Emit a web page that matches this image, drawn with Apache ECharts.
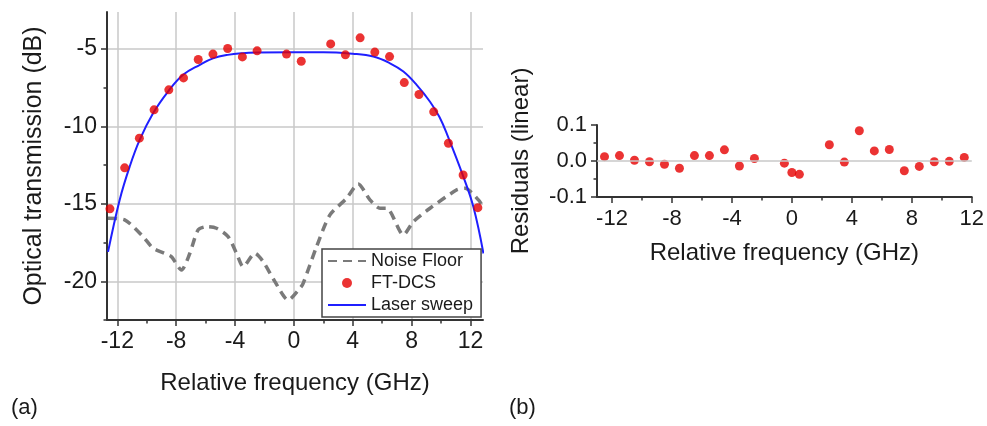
<!DOCTYPE html>
<html>
<head>
<meta charset="utf-8">
<script src="https://cdn.jsdelivr.net/npm/echarts@6/dist/echarts.min.js"></script>
<style>
html,body{margin:0;padding:0;background:#fff;}
#chart{width:987px;height:426px;}
</style>
</head>
<body>
<div id="chart"></div>
<script>
// ---- data ----
const dcsFreq = [-12.5,-11.5,-10.5,-9.5,-8.5,-7.5,-6.5,-5.5,-4.5,-3.5,-2.5,-0.5,0.5,2.5,3.5,4.5,5.5,6.5,7.5,8.5,9.5,10.5,11.5,12.5];
const dcsDb   = [-15.32,-12.67,-10.75,-8.92,-7.63,-6.86,-5.67,-5.32,-4.96,-5.50,-5.11,-5.32,-5.78,-4.66,-5.37,-4.27,-5.19,-5.48,-7.16,-7.93,-9.05,-11.08,-13.13,-15.24];

const sweepFreq = [-12.63,-11.84,-11.16,-10.48,-9.57,-8.55,-7.53,-6.39,-5.5,-4.5,-3.5,-2.5,0,2,4,5.4,6.5,7.44,8.34,9.25,9.9,10.45,11.5,12.2,12.88];
const sweepDb   = [-18.1,-14.74,-12.59,-10.86,-9.14,-7.74,-6.66,-6.01,-5.6,-5.37,-5.26,-5.22,-5.2,-5.2,-5.3,-5.48,-5.9,-6.45,-7.31,-8.4,-9.4,-10.6,-13.2,-15.2,-18.2];

const noiseFreq = [-12.63,-11.5,-10.25,-9.57,-8.78,-8.32,-7.64,-7.07,-6.51,-5.94,-5.26,-4.47,-3.9,-3.45,-2.65,-2.09,-1.29,-0.39,0.41,0.63,1.54,2.45,3.59,4.37,5.17,5.85,6.31,7.44,8.12,9.25,11.07,11.63,12.54,12.85];
const noiseDb   = [-15.92,-16.03,-17.11,-17.86,-18.19,-18.41,-19.27,-18.19,-16.68,-16.47,-16.57,-17.11,-18.19,-19.05,-18.19,-18.73,-20.02,-21.21,-20.45,-20.13,-17.76,-15.71,-14.63,-13.71,-14.74,-15.28,-15.28,-17.0,-16.14,-15.28,-14.09,-13.99,-14.74,-15.2];

const resFreq = [-12.5,-11.5,-10.5,-9.5,-8.5,-7.5,-6.5,-5.5,-4.5,-3.5,-2.5,-0.5,0,0.5,2.5,3.5,4.5,5.5,6.5,7.5,8.5,9.5,10.5,11.5];
const resVal  = [0.012,0.015,0.002,-0.002,-0.009,-0.020,0.015,0.015,0.031,-0.014,0.007,-0.006,-0.032,-0.037,0.045,-0.003,0.084,0.028,0.032,-0.027,-0.015,-0.002,-0.001,0.010];

const freqTicks      = [-12,-8,-4,0,4,8,12];
const freqMinorTicks = [-10,-6,-2,2,6,10];
const dbTicks        = [-20,-15,-10,-5];
const dbMinorTicks   = [-22.5,-17.5,-12.5,-7.5];
const resTicks       = [-0.1,0,0.1];
const resMinorTicks  = [-0.05,0.05];

const labels = { yLeft: 'Optical transmission (dB)', yRight: 'Residuals (linear)', x: 'Relative frequency (GHz)' };

// ---- chart ----
const FONT = 'Liberation Sans, Arial, sans-serif';
const TXT = '#1a1a1a';
const AXIS = '#333';
const GRIDC = '#c8c8c8';
const zip = (a, b) => a.map((v, i) => [v, b[i]]);

function mainAxis(extra) {
  return Object.assign({
    type: 'value',
    axisLine: { show: true, onZero: false, lineStyle: { color: AXIS, width: 2 } },
    splitLine: { show: false },
    minorTick: { show: false }
  }, extra);
}
function minorAxis(extra) {
  return Object.assign({
    type: 'value',
    axisLine: { show: false, onZero: false },
    axisLabel: { show: false },
    splitLine: { show: false }
  }, extra);
}
const majorTick = vals => ({ show: true, inside: false, length: 6, customValues: vals, lineStyle: { color: AXIS, width: 1.5 } });
const minorTick = vals => ({ show: true, inside: false, length: 3.5, customValues: vals, lineStyle: { color: AXIS, width: 1.5 } });

const chart = echarts.init(document.getElementById('chart'), null, { renderer: 'canvas' });

const leftX = [-12.7, 12.85], leftY = [-22.5, -2.6];
const rightX = [-13, 12], rightY = [-0.1, 0.1];
const noSymbol = { color: 'rgba(0,0,0,0)', borderColor: 'rgba(0,0,0,0)', borderWidth: 0, opacity: 0 };

chart.setOption({
  backgroundColor: '#fff',
  animation: false,
  grid: [
    { left: 107, top: 12, width: 376, height: 308, containLabel: false },
    { left: 597, top: 125, width: 376.5, height: 72, containLabel: false }
  ],
  xAxis: [
    mainAxis({ gridIndex: 0, min: leftX[0], max: leftX[1], position: 'bottom',
      axisTick: majorTick(freqTicks),
      axisLabel: { color: TXT, fontFamily: FONT, fontSize: 23, margin: 10, customValues: freqTicks },
      splitLine: { show: true, lineStyle: { color: GRIDC, width: 1.5 } },
      name: labels.x, nameLocation: 'middle', nameGap: 51,
      nameTextStyle: { color: TXT, fontFamily: FONT, fontSize: 24 } }),
    minorAxis({ gridIndex: 0, min: leftX[0], max: leftX[1], position: 'bottom', axisTick: minorTick(freqMinorTicks) }),
    mainAxis({ gridIndex: 1, min: rightX[0], max: rightX[1], position: 'bottom',
      axisTick: majorTick(freqTicks),
      axisLabel: { color: TXT, fontFamily: FONT, fontSize: 22, margin: 11, customValues: freqTicks },
      name: labels.x, nameLocation: 'middle', nameGap: 44,
      nameTextStyle: { color: TXT, fontFamily: FONT, fontSize: 24 } }),
    minorAxis({ gridIndex: 1, min: rightX[0], max: rightX[1], position: 'bottom', axisTick: minorTick(freqMinorTicks) })
  ],
  yAxis: [
    mainAxis({ gridIndex: 0, min: leftY[0], max: leftY[1], position: 'left',
      axisTick: majorTick(dbTicks),
      axisLabel: { color: TXT, fontFamily: FONT, fontSize: 23, margin: 10, customValues: dbTicks },
      splitLine: { show: true, lineStyle: { color: GRIDC, width: 1.5 } },
      name: labels.yLeft, nameLocation: 'middle', nameGap: 60, nameRotate: 90,
      nameTextStyle: { color: TXT, fontFamily: FONT, fontSize: 25 } }),
    minorAxis({ gridIndex: 0, min: leftY[0], max: leftY[1], position: 'left', axisTick: minorTick(dbMinorTicks) }),
    mainAxis({ gridIndex: 1, min: rightY[0], max: rightY[1], position: 'left',
      axisTick: majorTick(resTicks),
      axisLabel: { color: TXT, fontFamily: FONT, fontSize: 22, margin: 10, customValues: resTicks,
        formatter: v => v.toFixed(1) },
      name: labels.yRight, nameLocation: 'middle', nameGap: 64, nameRotate: 90,
      nameTextStyle: { color: TXT, fontFamily: FONT, fontSize: 24 } }),
    minorAxis({ gridIndex: 1, min: rightY[0], max: rightY[1], position: 'left', axisTick: minorTick(resMinorTicks) })
  ],
  legend: {
    left: 322, top: 249,
    orient: 'vertical',
    backgroundColor: '#fff',
    borderColor: '#444', borderWidth: 1.5, borderRadius: 0,
    padding: [3, 8, 3, 5],
    itemWidth: 38, itemHeight: 10, itemGap: 4,
    textStyle: { color: TXT, fontFamily: FONT, fontSize: 18 },
    data: [
      { name: 'Noise Floor', itemStyle: noSymbol },
      { name: 'FT-DCS', icon: 'circle' },
      { name: 'Laser sweep', itemStyle: noSymbol }
    ]
  },
  series: [
    { name: 'Noise Floor', type: 'line', xAxisIndex: 0, yAxisIndex: 0,
      data: zip(noiseFreq, noiseDb), symbol: 'none', smooth: 0.25,
      lineStyle: { color: '#7a7a7a', width: 3.5, type: [9, 6] }, itemStyle: { color: '#7a7a7a' }, z: 2 },
    { name: 'Laser sweep', type: 'line', xAxisIndex: 0, yAxisIndex: 0,
      data: zip(sweepFreq, sweepDb), symbol: 'none', smooth: 0.4,
      lineStyle: { color: '#1f1fff', width: 2 }, itemStyle: { color: '#1f1fff' }, z: 3 },
    { name: 'FT-DCS', type: 'scatter', xAxisIndex: 0, yAxisIndex: 0,
      data: zip(dcsFreq, dcsDb), symbol: 'circle', symbolSize: 9,
      itemStyle: { color: '#e60000' }, z: 4 },
    { name: 'Residuals', type: 'scatter', xAxisIndex: 2, yAxisIndex: 2,
      data: zip(resFreq, resVal), symbol: 'circle', symbolSize: 9,
      itemStyle: { color: '#e60000' }, z: 4,
      markLine: { silent: true, symbol: 'none', label: { show: false },
        lineStyle: { color: GRIDC, width: 1.5, type: 'solid' }, data: [{ yAxis: 0 }] } }
  ],
  graphic: [
    { type: 'text', left: 11, top: 397, style: { text: '(a)', fontFamily: FONT, fontSize: 22, fill: TXT } },
    { type: 'text', left: 509, top: 397, style: { text: '(b)', fontFamily: FONT, fontSize: 22, fill: TXT } }
  ]
});
</script>
</body>
</html>
